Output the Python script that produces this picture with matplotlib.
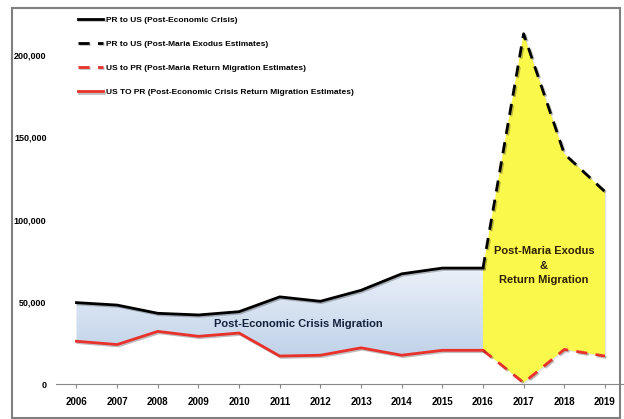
import matplotlib.pyplot as plt
import matplotlib.patheffects as pe
from matplotlib.patches import Rectangle
import numpy as np

plt.rcParams['font.family'] = ['Liberation Sans', 'DejaVu Sans']

years = [2006, 2007, 2008, 2009, 2010, 2011, 2012, 2013, 2014, 2015, 2016, 2017, 2018, 2019]
# PR -> US outflows
pr_to_us = [49500, 48000, 43000, 42000, 44000, 53000, 50300, 57000, 67000, 70500, 70500, 213000, 140000, 117000]
# US -> PR return flows
us_to_pr = [26000, 24000, 32000, 29000, 31000, 17000, 17500, 22000, 17500, 20500, 20500, 800, 21000, 17000]

split = years.index(2016)
yr_pre, yr_post = years[:split + 1], years[split:]

fig = plt.figure(figsize=(6.24, 4.19), dpi=100)
ax = fig.add_axes([0.09, 0.0835, 0.912, 0.883])

shadow = [pe.SimplePatchShadow(offset=(1, -1), alpha=0.2, shadow_rgbFace='gray'), pe.Normal()]
lshadow = [pe.SimpleLineShadow(offset=(1, -1), alpha=0.25), pe.Normal()]

# blue gradient between the two pre-Maria lines
poly = ax.fill_between(yr_pre, us_to_pr[:split + 1], pr_to_us[:split + 1], color='none', lw=0)
grad = np.linspace(0, 1, 256).reshape(-1, 1)
img = ax.imshow(grad, extent=[2006, 2016, 0, 75000], origin='lower', aspect='auto',
                cmap=plt.matplotlib.colors.LinearSegmentedColormap.from_list('b', ['#b3c9e4', '#eef3fa']),
                zorder=1)
img.set_clip_path(poly.get_paths()[0], transform=ax.transData)

# yellow post-Maria area
ax.fill_between(yr_post, us_to_pr[split:], pr_to_us[split:], color='#fbf84c', lw=0, zorder=1,
                path_effects=shadow)

ax.plot(yr_pre, pr_to_us[:split + 1], color='black', lw=2.0, zorder=3, path_effects=lshadow,
        label='PR to US (Post-Economic Crisis)')
ax.plot(yr_post, pr_to_us[split:], color='black', lw=2.0, ls=(0, (4, 3)), zorder=3, path_effects=lshadow,
        label='PR to US (Post-Maria Exodus Estimates)')
ax.plot(yr_post, us_to_pr[split:], color='#e8312a', lw=2.0, ls=(0, (4, 3)), zorder=3, path_effects=lshadow,
        label='US to PR (Post-Maria Return Migration Estimates)')
ax.plot(yr_pre, us_to_pr[:split + 1], color='#e8312a', lw=2.0, zorder=3, path_effects=lshadow,
        label='US TO PR (Post-Economic Crisis Return Migration Estimates)')

ax.text(2011.45, 36500, 'Post-Economic Crisis Migration', ha='center', va='center',
        fontsize=8, fontweight='bold', color='#14213a', zorder=4)
ax.text(2017.5, 72000, 'Post-Maria Exodus\n&\nReturn Migration', ha='center', va='center',
        fontsize=8, fontweight='bold', color='#2e2106', linespacing=1.55, zorder=4)

ax.set_xlim(2005.5, 2019.5)
ax.set_ylim(0, 225000)
ax.set_xticks(years)
ax.set_xticklabels([str(y) for y in years], fontsize=7, fontweight='bold')
ax.set_yticks([0, 50000, 100000, 150000, 200000])
ax.set_yticklabels(['0', '50,000', '100,000', '150,000', '200,000'], fontsize=6.5, fontweight='bold')
ax.tick_params(axis='y', length=0, pad=7)
ax.tick_params(axis='x', length=3, color='#888888', pad=6)
for s in ['top', 'right', 'left']:
    ax.spines[s].set_visible(False)
ax.spines['bottom'].set_color('#888888')

leg = ax.legend(loc='upper left', bbox_to_anchor=(0.025, 1.015), frameon=False,
                handlelength=3.0, labelspacing=1.95, handletextpad=0.4,
                prop={'weight': 'bold', 'size': 6})

fig.add_artist(Rectangle((0.019, 0.003), 0.975, 0.977, transform=fig.transFigure,
                         fill=False, ec='#7f7f7f', lw=1.5))

fig.savefig('out.png', dpi=100)
